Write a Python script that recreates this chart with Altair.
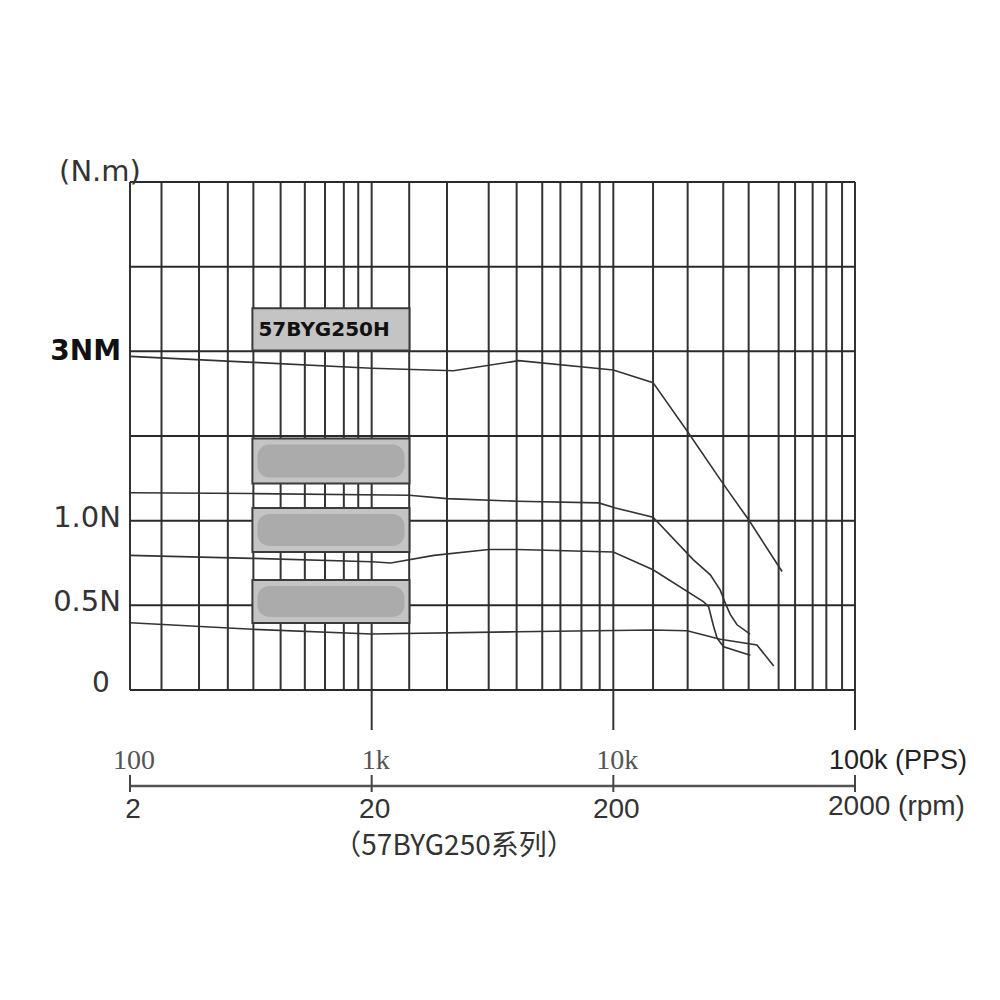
import altair as alt
import pandas as pd

# ---------------- data ----------------
# vertical grid lines of the (hand-drawn) log grid, in PPS
grid_pps = [100, 135, 193, 254, 324, 420, 529, 641, 767, 880,
            1000, 1430, 2050, 3050, 3980, 5080, 6040, 7380, 8780,
            10000, 14600, 20300, 28500, 36300, 48300, 56500, 66800, 76100, 88400, 100000]
# horizontal grid lines (grid units)
grid_units = [0, 1, 2, 3, 4, 5, 6]
# decade lines that run down below the plot
decade_pps = [1000, 10000, 100000]

# y tick labels (grid units -> text)
ylab_units = [1, 2]
ylab_text = ["0.5N", "1.0N"]
ybold_units = [4]
ybold_text = ["3NM"]
yzero_units = [0]
yzero_text = ["0"]

# x tick labels
pps_ticks = [100, 1000, 10000]
pps_labels = ["100", "1k", "10k"]
pps_last = [100000]
pps_last_label = ["100k (PPS)"]
rpm_ticks = [100, 1000, 10000, 100000]
rpm_labels = ["2", "20", "200"]
rpm_last_label = ["2000 (rpm)"]

# torque curves (PPS, grid units)
c1_pps = [100, 322, 1000, 2180, 4060, 10000, 14600, 20300, 28400, 36300, 49900]
c1_u = [3.94, 3.87, 3.80, 3.77, 3.89, 3.78, 3.63, 3.05, 2.44, 2.01, 1.40]

c2_pps = [100, 321, 1430, 2050, 4000, 8700, 10200, 14600, 21400, 25200, 27700, 29100, 30500, 32500, 36800]
c2_u = [2.33, 2.32, 2.30, 2.26, 2.23, 2.21, 2.15, 2.04, 1.54, 1.36, 1.18, 1.02, 0.89, 0.77, 0.66]

c3_pps = [100, 321, 1000, 1200, 1810, 3050, 4000, 10000, 14600, 23650, 24800, 26000, 26900, 28600, 36900]
c3_u = [1.59, 1.555, 1.515, 1.50, 1.59, 1.66, 1.66, 1.63, 1.42, 1.04, 0.98, 0.75, 0.61, 0.51, 0.41]

c4_pps = [100, 321, 1000, 4000, 14600, 20200, 27700, 39300, 46100]
c4_u = [0.795, 0.717, 0.661, 0.688, 0.708, 0.700, 0.599, 0.531, 0.283]

# legend boxes (PPS extent, grid-unit extent)
box_x1 = [321, 321, 321, 321]
box_x2 = [1434, 1434, 1434, 1434]
box_top = [4.51, 2.97, 2.15, 1.30]
box_bot = [4.01, 2.44, 1.63, 0.79]
box_label = ["57BYG250H"]

series_title = "（57BYG250系列）"

# ---------------- frames ----------------
W, H = 725, 508
xs = alt.Scale(type="log", domain=[100, 100000], nice=False)
ys = alt.Scale(type="linear", domain=[0, 6], nice=False, zero=False)

df_vgrid = pd.DataFrame({"pps": grid_pps})
df_hgrid = pd.DataFrame({"u": grid_units})
df_dec = pd.DataFrame({"pps": decade_pps})

rows = []
for name, px, pu in [("c1", c1_pps, c1_u), ("c2", c2_pps, c2_u),
                     ("c3", c3_pps, c3_u), ("c4", c4_pps, c4_u)]:
    for i, (a, b) in enumerate(zip(px, pu)):
        rows.append({"series": name, "i": i, "pps": a, "u": b})
df_curves = pd.DataFrame(rows)

df_boxes = pd.DataFrame({"pps": box_x1, "pps2": box_x2, "u": box_top, "u2": box_bot})
df_pills = df_boxes.iloc[1:]
df_box1 = pd.DataFrame({"pps": [box_x1[0]], "u": [(box_top[0] + box_bot[0]) / 2], "t": box_label})

X = lambda: alt.X("pps:Q", scale=xs, axis=None)
Y = lambda: alt.Y("u:Q", scale=ys, axis=None)

vgrid = alt.Chart(df_vgrid).mark_rule(color="#333333", strokeWidth=2).encode(
    x=X(), y=alt.value(0), y2=alt.value(H))
hgrid = alt.Chart(df_hgrid).mark_rule(color="#2a2a2a", strokeWidth=2).encode(
    y=Y(), x=alt.value(0), x2=alt.value(W))
ext = alt.Chart(df_dec).mark_rule(color="#333333", strokeWidth=2).encode(
    x=X(), y=alt.value(H), y2=alt.value(H + 40))

boxes = alt.Chart(df_boxes).mark_rect(fill="#c4c4c4", stroke="#3a3a3a", strokeWidth=2).encode(
    x=X(), x2="pps2:Q", y=Y(), y2="u2:Q")
pills = alt.Chart(df_pills).mark_rect(fill="#ababab", cornerRadius=12,
                                      xOffset=5, x2Offset=-5, yOffset=6, y2Offset=-6).encode(
    x=X(), x2="pps2:Q", y=Y(), y2="u2:Q")
box1_text = alt.Chart(df_box1).mark_text(align="left", baseline="middle", dx=6, dy=1,
                                         font="DejaVu Sans", fontWeight="bold", fontSize=20,
                                         color="#111111").encode(x=X(), y=Y(), text="t:N")

curves = alt.Chart(df_curves).mark_line(color="#333333", strokeWidth=1.6).encode(
    x=X(), y=Y(), detail="series:N", order="i:Q")

# y labels
ylab = alt.Chart(pd.DataFrame({"u": ylab_units, "t": ylab_text})).mark_text(
    align="right", baseline="middle", dx=-9, dy=-3, font="DejaVu Sans", fontSize=29,
    color="#333333").encode(y=Y(), x=alt.value(0), text="t:N")
ybold = alt.Chart(pd.DataFrame({"u": ybold_units, "t": ybold_text})).mark_text(
    align="right", baseline="middle", dx=-9, dy=1, font="DejaVu Sans", fontSize=28,
    fontWeight="bold", color="#111111").encode(y=Y(), x=alt.value(0), text="t:N")
yzero = alt.Chart(pd.DataFrame({"u": yzero_units, "t": yzero_text})).mark_text(
    align="center", baseline="middle", dx=-29, dy=-6, font="DejaVu Sans", fontSize=28,
    color="#333333").encode(y=Y(), x=alt.value(0), text="t:N")
yunit = alt.Chart(pd.DataFrame({"u": [6], "t": ["(N.m)"]})).mark_text(
    align="center", baseline="middle", dx=-30, dy=-10, font="DejaVu Sans", fontSize=29,
    color="#333333").encode(y=Y(), x=alt.value(0), text="t:N")

# x labels (PPS)
ppslab = alt.Chart(pd.DataFrame({"pps": pps_ticks, "t": pps_labels})).mark_text(
    align="center", baseline="middle", dx=4, font="Liberation Serif", fontSize=28,
    color="#555555").encode(x=X(), y=alt.value(579), text="t:N")
ppslast = alt.Chart(pd.DataFrame({"pps": pps_last, "t": pps_last_label})).mark_text(
    align="left", baseline="middle", dx=-26, font="Liberation Sans", fontSize=27,
    color="#222222").encode(x=X(), y=alt.value(579), text="t:N")

# rpm axis
rpm_line = alt.Chart(pd.DataFrame({"pps": [rpm_ticks[0]], "pps2": [rpm_ticks[-1]]})).mark_rule(
    color="#555555", strokeWidth=2.5).encode(x=X(), x2="pps2:Q", y=alt.value(604))
rpm_tick = alt.Chart(pd.DataFrame({"pps": rpm_ticks})).mark_rule(
    color="#444444", strokeWidth=2).encode(x=X(), y=alt.value(593), y2=alt.value(610))
rpmlab = alt.Chart(pd.DataFrame({"pps": rpm_ticks[:3], "t": rpm_labels})).mark_text(
    align="center", baseline="middle", dx=3, font="Liberation Sans", fontSize=28,
    color="#333333").encode(x=X(), y=alt.value(628), text="t:N")
rpmlast = alt.Chart(pd.DataFrame({"pps": rpm_ticks[3:], "t": rpm_last_label})).mark_text(
    align="left", baseline="middle", dx=-27, font="Liberation Sans", fontSize=28,
    color="#333333").encode(x=X(), y=alt.value(625), text="t:N")

stitle = alt.Chart(pd.DataFrame({"t": [series_title]})).mark_text(
    align="center", baseline="middle", font="Noto Sans CJK SC", fontSize=28,
    color="#333333").encode(x=alt.value(324), y=alt.value(665), text="t:N")

chart = alt.layer(
    vgrid, hgrid, ext, boxes, pills, box1_text, curves,
    ylab, ybold, yzero, yunit, ppslab, ppslast, rpm_line, rpm_tick, rpmlab, rpmlast, stitle
).properties(
    width=W, height=H, autosize="none",
    padding={"left": 122, "top": 174, "right": 137, "bottom": 300},
    background="white"
).configure_view(stroke=None)

chart.save("out.html", embed_options={"renderer": "svg", "actions": False})
